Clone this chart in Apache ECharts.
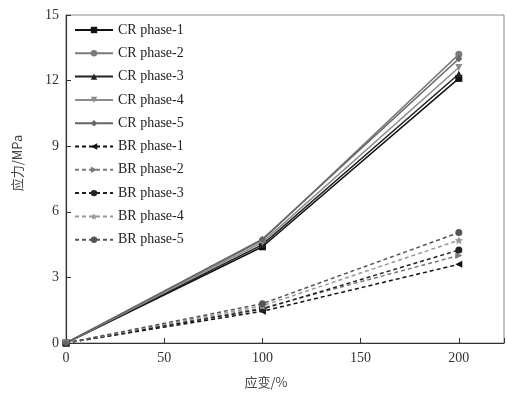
<!DOCTYPE html>
<html>
<head>
<meta charset="utf-8">
<script src="https://cdn.jsdelivr.net/npm/echarts@6/dist/echarts.min.js"></script>
<style>
  html, body { margin: 0; padding: 0; background: #fff; }
  #chart { width: 507px; height: 397px; }
</style>
</head>
<body>
<div id="chart"></div>
<script>
// strain (%) positions
const strain = [0, 100, 200];

const seriesNames = [
  'CR phase-1', 'CR phase-2', 'CR phase-3', 'CR phase-4', 'CR phase-5',
  'BR phase-1', 'BR phase-2', 'BR phase-3', 'BR phase-4', 'BR phase-5'
];

// stress (MPa) at each strain
const cr1 = [0, 4.4, 12.1];
const cr2 = [0, 4.7, 13.2];
const cr3 = [0, 4.5, 12.3];
const cr4 = [0, 4.6, 12.6];
const cr5 = [0, 4.75, 13.0];
const br1 = [0, 1.45, 3.6];
const br2 = [0, 1.6, 4.0];
const br3 = [0, 1.55, 4.25];
const br4 = [0, 1.7, 4.7];
const br5 = [0, 1.8, 5.05];

const yTicks = [0, 3, 6, 9, 12, 15];
const xTicks = [0, 50, 100, 150, 200];

const allValues = [cr1, cr2, cr3, cr4, cr5, br1, br2, br3, br4, br5];
const colors = ['#111', '#7a7a7a', '#222', '#8c8c8c', '#666',
                '#111', '#7a7a7a', '#222', '#999', '#555'];
const symbols = ['rect', 'circle', 'triangle', 'triangle', 'diamond',
                 'triangle', 'triangle', 'circle', 'path://M0,-10L2.9,-4L9.5,-3.1L4.8,1.5L5.9,8.1L0,5L-5.9,8.1L-4.8,1.5L-9.5,-3.1L-2.9,-4Z', 'circle'];
const rotates = [0, 0, 0, 180, 0, 90, -90, 0, 0, 0];

const serif = 'Liberation Serif, DejaVu Serif, serif';

const chart = echarts.init(document.getElementById('chart'));

const series = seriesNames.map((name, i) => ({
  name: name,
  type: 'line',
  data: strain.map((x, j) => [x, allValues[i][j]]),
  symbol: symbols[i],
  symbolRotate: rotates[i],
  symbolSize: i === 8 ? 8 : 7,
  showSymbol: true,
  color: colors[i],
  lineStyle: {
    color: colors[i],
    width: 1.5,
    type: i < 5 ? 'solid' : [4, 3]
  },
  itemStyle: { color: colors[i] },
  z: i < 5 ? 3 : 2,
  animation: false
}));

chart.setOption({
  animation: false,
  grid: {
    left: 66, right: 3, top: 15, bottom: 54,
    show: true, borderColor: '#888', borderWidth: 1
  },
  legend: {
    orient: 'vertical',
    left: 69, top: 18,
    itemWidth: 38, itemHeight: 8, itemGap: 9.3,
    textStyle: { fontFamily: serif, fontSize: 14, color: '#222' },
    data: seriesNames
  },
  xAxis: {
    type: 'value',
    min: 0, max: 223, interval: 50,
    name: '应变/%',
    nameLocation: 'middle',
    nameGap: 33,
    nameTextStyle: { fontFamily: 'Noto Sans CJK SC', fontSize: 13, color: '#444', padding: [0, 38, 0, 0] },
    axisLine: { lineStyle: { color: '#333', width: 1.2 } },
    axisTick: { inside: true, length: 5, lineStyle: { color: '#333' } },
    axisLabel: {
      fontFamily: serif, fontSize: 14, color: '#333', margin: 8,
      formatter: v => (xTicks.indexOf(v) >= 0 ? String(v) : '')
    },
    splitLine: { show: false }
  },
  yAxis: {
    type: 'value',
    min: 0, max: 15, interval: 3,
    name: '应力/MPa',
    nameLocation: 'middle',
    nameGap: 42,
    nameTextStyle: { fontFamily: 'Noto Sans CJK SC', fontSize: 13, color: '#444', padding: [0, 0, 0, 32] },
    axisLine: { show: true, lineStyle: { color: '#333', width: 1.2 } },
    axisTick: { show: true, inside: true, length: 5, lineStyle: { color: '#333' } },
    axisLabel: {
      fontFamily: serif, fontSize: 14, color: '#333', margin: 7,
      formatter: v => (yTicks.indexOf(v) >= 0 ? String(v) : '')
    },
    splitLine: { show: false }
  },
  series: series
});
</script>
</body>
</html>
